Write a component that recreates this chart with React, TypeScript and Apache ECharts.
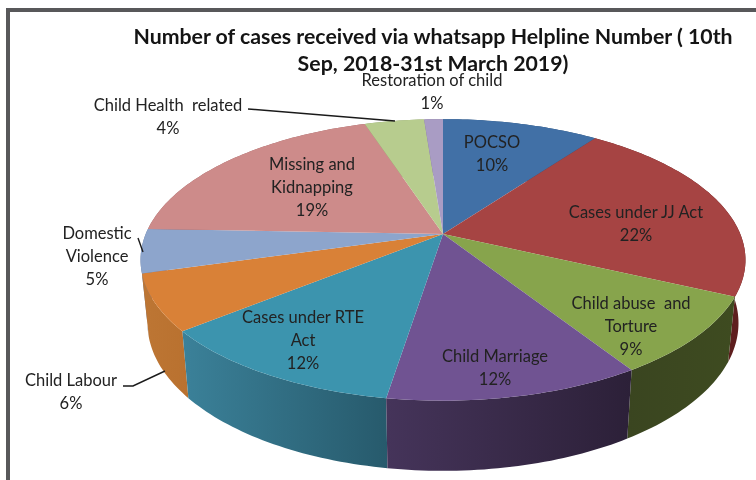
import React, { useEffect, useRef } from "react";
import * as echarts from "echarts";

// ---- data (clockwise from 12 o'clock) ----
const CATEGORIES = [
  "POCSO",
  "Cases under JJ Act",
  "Child abuse  and\nTorture",
  "Child Marriage",
  "Cases under RTE\nAct",
  "Child Labour",
  "Domestic\nViolence",
  "Missing and\nKidnapping",
  "Child Health  related",
  "Restoration of child",
];
const SHARES = [10, 22, 9, 11.5, 11.6, 6.45, 5.05, 19.4, 3.8, 1.2];
const TITLE = "Number of cases received via whatsapp Helpline Number ( 10th\nSep, 2018-31st March 2019)";

// ---- styles ----
const TOP_COLORS = ["#4170a6", "#a64443", "#87a44c", "#705392", "#3c94ae", "#d98137", "#8da5cc", "#cd8b8a", "#b7cc8e", "#a99cc4"];
const WALL_COLORS = [
  ["#2c4f76", "#2c4f76"],
  ["#5e1e1e", "#5e1e1e"],
  ["#3a4520", "#3e4b20"],
  ["#45345a", "#2c2038"],
  ["#3b8199", "#275a6c"],
  ["#bd7634", "#b9712f"],
  ["#64799c", "#64799c"],
  ["#9a6464", "#9a6464"],
  ["#8a9b68", "#8a9b68"],
  ["#7c7192", "#7c7192"],
];
const LABEL_ANCHORS = [
  [492, 153], [636, 223], [631, 326], [495, 367], [303, 340],
  [71, 391], [97, 256], [312, 187], [168, 116], [432, 91],
];
const LEADERS = [
  [[248, 109], [395, 121]],
  [[138, 238], [143, 252]],
  [[123, 386], [133, 386], [165, 371]],
];

// ---- perspective projection of the pie disc ----
const CX = 443;
const CY = 234;
const A = 297.3;
const B = 136;
const K = 0.184;
const WALL_SX = 0.977;
const WALL_SY = 1.049;
const WALL_DY = 62;

function topPoint(angle: number): number[] {
  const u = Math.sin(angle);
  const v = Math.cos(angle);
  const w = 1 + K * v;
  return [CX + (A * u) / w, CY - (B * v) / w];
}
function bottomPoint(angle: number): number[] {
  const [x, y] = topPoint(angle);
  return [CX + WALL_SX * (x - CX), CY + WALL_DY + WALL_SY * (y - CY)];
}

const total = SHARES.reduce((a, b) => a + b, 0);
const sweeps = SHARES.map((s, i) => {
  const before = SHARES.slice(0, i).reduce((a, b) => a + b, 0);
  return [(before / total) * Math.PI * 2, ((before + s) / total) * Math.PI * 2];
});
function arc(i: number, fn: (a: number) => number[]): number[][] {
  const [a0, a1] = sweeps[i];
  const n = Math.max(4, Math.ceil((a1 - a0) / 0.02));
  const pts: number[][] = [];
  for (let k = 0; k <= n; k++) pts.push(fn(a0 + ((a1 - a0) * k) / n));
  return pts;
}
// back slices are painted first so that front walls lie over them
const wallOrder = SHARES.map((_, i) => i).sort(
  (p, q) => Math.cos((sweeps[q][0] + sweeps[q][1]) / 2) - Math.cos((sweeps[p][0] + sweeps[p][1]) / 2)
);

const FONT = "Lato, Carlito, sans-serif";

export default function App() {
  const ref = useRef<HTMLDivElement>(null);
  useEffect(() => {
    document.body.style.margin = "0";
    document.body.style.background = "#fff";
    const chart = echarts.init(ref.current!, undefined, { renderer: "svg" });
    const option: any = {
      animation: false,
      backgroundColor: "#ffffff",
      title: {
        text: TITLE,
        left: 428,
        top: 17,
        textAlign: "center",
        textStyle: { fontFamily: FONT, fontSize: 21.3, fontWeight: "bold", color: "#141414", lineHeight: 27 },
      },
      series: [
        {
          type: "custom",
          coordinateSystem: "none",
          z: 2,
          silent: true,
          clip: false,
          data: wallOrder.map((i) => SHARES[i]),
          renderItem: (params: any) => {
            const i = wallOrder[params.dataIndex];
            const pts = [...arc(i, topPoint), ...arc(i, bottomPoint).reverse()];
            return {
              type: "polygon",
              shape: { points: pts },
              style: {
                fill: new echarts.graphic.LinearGradient(0, 0, 1, 0, [
                  { offset: 0, color: WALL_COLORS[i][0] },
                  { offset: 1, color: WALL_COLORS[i][1] },
                ]),
              },
            };
          },
        },
        {
          type: "custom",
          coordinateSystem: "none",
          z: 3,
          silent: true,
          clip: false,
          data: SHARES,
          renderItem: (params: any) => {
            const i = params.dataIndex;
            return {
              type: "polygon",
              shape: { points: [[CX, CY], ...arc(i, topPoint)] },
              style: { fill: TOP_COLORS[i] },
            };
          },
        },
      ],
      graphic: {
        elements: [
          { type: "rect", z: 50, silent: true, shape: { x: 6, y: 8, width: 750, height: 4 }, style: { fill: "#58585a" } },
          { type: "rect", z: 50, silent: true, shape: { x: 6, y: 8, width: 4, height: 472 }, style: { fill: "#58585a" } },
          ...LEADERS.map((points) => ({
            type: "polyline",
            z: 60,
            silent: true,
            shape: { points },
            style: { stroke: "#1a1a1a", lineWidth: 1.4, fill: "none" },
          })),
          ...CATEGORIES.map((name, i) => ({
            type: "text",
            z: 70,
            silent: true,
            x: LABEL_ANCHORS[i][0],
            y: LABEL_ANCHORS[i][1],
            style: {
              text: `${name}\n${Math.round(SHARES[i])}%`,
              font: `16.5px ${FONT}`,
              lineHeight: 23,
              fill: "#222222",
              align: "center",
              verticalAlign: "middle",
            },
          })),
        ],
      },
    };
    chart.setOption(option);
    return () => chart.dispose();
  }, []);
  return <div ref={ref} style={{ position: "absolute", left: 0, top: 0, width: 756, height: 480, filter: "blur(0.4px)" }} />;
}
